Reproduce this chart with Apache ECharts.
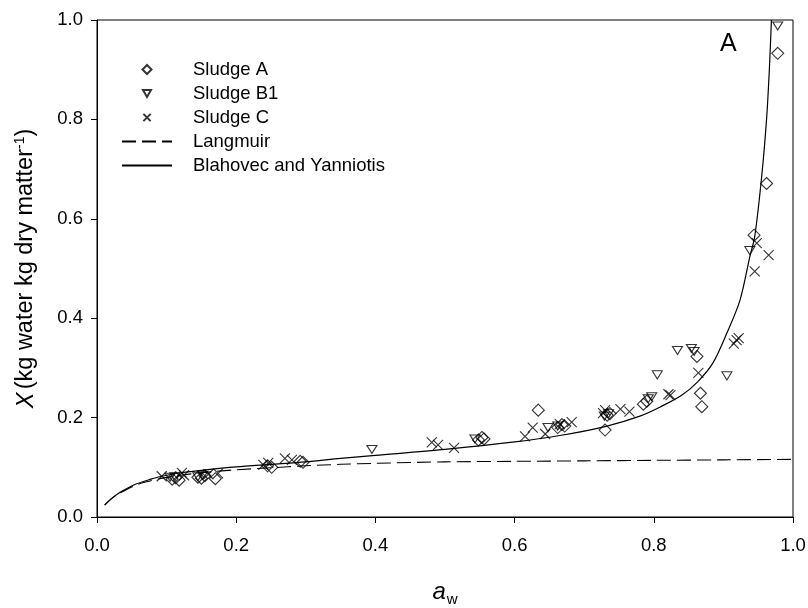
<html lang="en">
<head>
  <meta charset="utf-8">
  <title>Sorption isotherm A</title>
  <script src="https://cdn.jsdelivr.net/npm/echarts@6/dist/echarts.min.js"></script>
  <style>
    body { margin: 0; background: #fff; }
    #main { width: 808px; height: 608px; }
  </style>
</head>
<body>
  <div id="main"></div>
</body>
<script>
  // data: [aw, X]
  var sludgeA = [[0.108,0.076],[0.113,0.079],[0.118,0.074],[0.145,0.080],[0.150,0.078],[0.155,0.083],[0.170,0.077],
    [0.245,0.103],[0.251,0.100],[0.292,0.112],[0.296,0.110],[0.548,0.155],[0.553,0.160],[0.556,0.157],
    [0.634,0.215],[0.662,0.180],[0.668,0.186],[0.672,0.183],[0.730,0.175],[0.733,0.205],[0.737,0.208],
    [0.785,0.227],[0.790,0.233],[0.862,0.323],[0.867,0.249],[0.869,0.222],[0.944,0.567],[0.962,0.671],[0.978,0.933]];
  var sludgeB1 = [[0.105,0.080],[0.112,0.081],[0.145,0.081],[0.152,0.084],[0.395,0.136],[0.543,0.157],[0.648,0.180],
    [0.662,0.183],[0.729,0.203],[0.735,0.208],[0.792,0.238],[0.797,0.242],[0.805,0.286],[0.834,0.335],
    [0.854,0.339],[0.858,0.333],[0.905,0.284],[0.938,0.536],[0.978,0.988]];
  var sludgeC = [[0.093,0.082],[0.122,0.089],[0.125,0.084],[0.160,0.086],[0.174,0.088],[0.239,0.105],[0.246,0.109],
    [0.270,0.118],[0.280,0.115],[0.481,0.150],[0.490,0.145],[0.513,0.139],[0.615,0.162],[0.626,0.180],
    [0.644,0.167],[0.665,0.187],[0.682,0.191],[0.727,0.209],[0.730,0.215],[0.752,0.217],[0.765,0.212],
    [0.821,0.247],[0.824,0.245],[0.864,0.290],[0.915,0.349],[0.919,0.356],[0.922,0.360],[0.945,0.494],
    [0.948,0.551],[0.965,0.527]];
  var langmuir = [[0.011,0.024],[0.02,0.036],[0.03,0.046],[0.045,0.057],[0.057,0.065],[0.075,0.072],[0.09,0.077],
    [0.12,0.084],[0.15,0.089],[0.2,0.095],[0.25,0.099],[0.3,0.103],[0.35,0.106],[0.4,0.108],[0.5,0.111],
    [0.6,0.112],[0.7,0.113],[0.8,0.114],[0.9,0.115],[1.0,0.116]];
  var blahovec = [[0.011,0.024],[0.02,0.036],[0.03,0.047],[0.045,0.059],[0.057,0.067],[0.075,0.075],[0.09,0.081],
    [0.12,0.089],[0.15,0.094],[0.2,0.101],[0.25,0.106],[0.3,0.111],[0.35,0.118],[0.4,0.124],[0.5,0.136],
    [0.6,0.151],[0.665,0.164],[0.73,0.182],[0.78,0.203],[0.81,0.222],[0.84,0.245],[0.863,0.272],
    [0.885,0.31],[0.905,0.37],[0.924,0.437],[0.938,0.524],[0.945,0.564],[0.955,0.685],[0.962,0.80],
    [0.966,0.90],[0.969,1.0]];

  var fontName = 'Liberation Sans';
  var diamondPath = 'path://M6,0 L12,6 L6,12 L0,6 Z';
  var trianglePath = 'path://M0,0 L10,0 L5,8 Z';
  var crossPath = 'path://M0,0 L10,10 M10,0 L0,10';
  // legend icons: same shapes, with an empty margin so they come out smaller
  var legendTriangle = 'path://M-1,-1 L-1,-1 M0,0 L8,0 L4,7 Z M9,8 L9,8';
  var legendCross = 'path://M-1,-1 L-1,-1 M0,0 L8,8 M8,0 L0,8 M9,9 L9,9';
  var hollow = { color: 'rgba(255,255,255,0)', borderColor: '#000', borderWidth: 1.1 };

  var myChart = echarts.init(document.getElementById('main'));
  myChart.setOption({
    animation: false,
    backgroundColor: '#fff',
    textStyle: { fontFamily: fontName, color: '#000' },
    title: {
      text: 'A', left: 715, top: 27,
      textStyle: { fontFamily: fontName, fontWeight: 'normal', fontSize: 25, color: '#000' }
    },
    grid: {
      left: 97, right: 15, top: 20, bottom: 91,
      outerBoundsMode: 'none', containLabel: false,
      show: true, borderColor: '#000', borderWidth: 1
    },
    legend: {
      orient: 'vertical', left: 116, top: 55,
      itemWidth: 50, itemHeight: 9, itemGap: 5,
      textStyle: { fontFamily: fontName, fontSize: 18.5, color: '#000', padding: [0, 0, 0, 16] },
      data: [
        { name: 'Sludge A', icon: diamondPath },
        { name: 'Sludge B1', icon: legendTriangle },
        { name: 'Sludge C', icon: legendCross },
        { name: 'Langmuir', itemStyle: { opacity: 0 } },
        { name: 'Blahovec and Yanniotis', itemStyle: { opacity: 0 } }
      ]
    },
    xAxis: {
      type: 'value', min: 0, max: 1, interval: 0.2,
      name: '{i|a}{s|w}', nameLocation: 'middle', nameGap: 61,
      nameTextStyle: {
        rich: {
          i: { fontFamily: fontName, fontStyle: 'italic', fontSize: 24, color: '#000' },
          s: { fontFamily: fontName, fontSize: 15, color: '#000', padding: [14, 0, 0, 1] }
        }
      },
      axisLine: { lineStyle: { color: '#000', width: 1 } },
      axisTick: { inside: false, length: 6, lineStyle: { color: '#000' } },
      axisLabel: { fontFamily: fontName, fontSize: 18.5, color: '#000', margin: 19, formatter: function (v) { return v.toFixed(1); } },
      splitLine: { show: false }
    },
    yAxis: {
      type: 'value', min: 0, max: 1, interval: 0.2,
      name: '{i|X} {n|(kg water kg dry matter}{s|-1}{n|)}', nameLocation: 'middle', nameGap: 58,
      nameTextStyle: {
        rich: {
          i: { fontFamily: fontName, fontStyle: 'italic', fontSize: 23.5, color: '#000' },
          n: { fontFamily: fontName, fontSize: 23.5, color: '#000' },
          s: { fontFamily: fontName, fontSize: 14, color: '#000', padding: [0, 0, 12, 0] }
        }
      },
      axisLine: { lineStyle: { color: '#000', width: 1 } },
      axisTick: { inside: false, length: 6, lineStyle: { color: '#000' } },
      axisLabel: { fontFamily: fontName, fontSize: 18.5, color: '#000', margin: 14, formatter: function (v) { return v.toFixed(1); } },
      splitLine: { show: false }
    },
    series: [
      {
        name: 'Sludge A', type: 'scatter', data: sludgeA,
        symbol: diamondPath, symbolSize: 12, itemStyle: hollow
      },
      {
        name: 'Sludge B1', type: 'scatter', data: sludgeB1,
        symbol: trianglePath, symbolSize: [10, 8], itemStyle: hollow
      },
      {
        name: 'Sludge C', type: 'scatter', data: sludgeC,
        symbol: crossPath, symbolSize: 10, itemStyle: hollow
      },
      {
        name: 'Langmuir', type: 'line', data: langmuir, symbol: 'none', smooth: 0.3,
        lineStyle: { color: '#000', width: 1.1, type: [14, 6] },
        itemStyle: { color: '#000', opacity: 0 }
      },
      {
        name: 'Blahovec and Yanniotis', type: 'line', data: blahovec, symbol: 'none', smooth: 0.3,
        lineStyle: { color: '#000', width: 1.2 },
        itemStyle: { color: '#000', opacity: 0 }
      }
    ]
  });
</script>
</html>
